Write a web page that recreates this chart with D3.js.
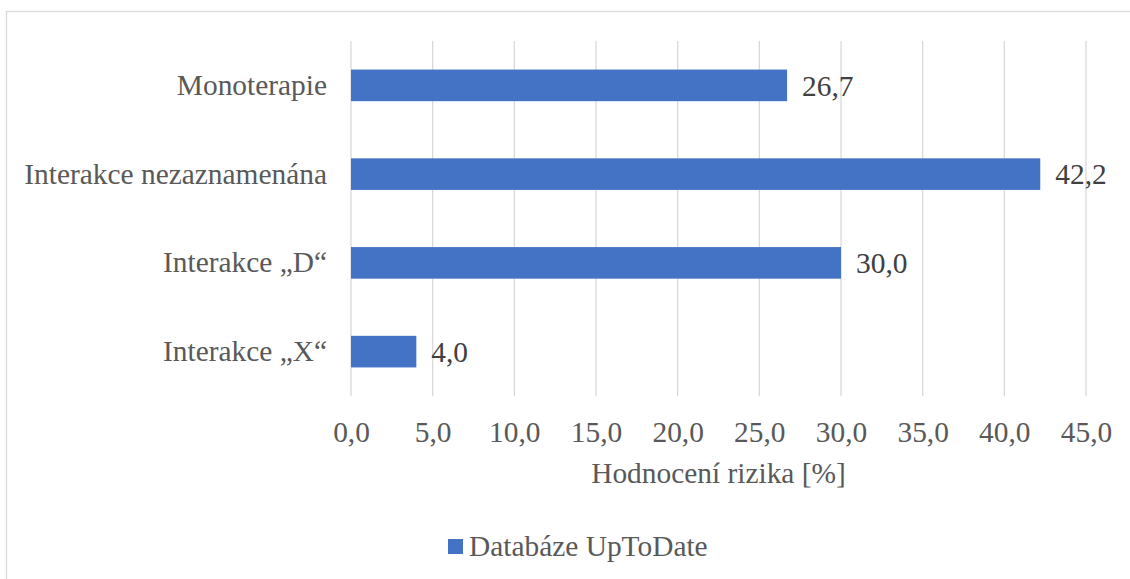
<!DOCTYPE html>
<html>
<head>
<meta charset="utf-8">
<script src="https://cdn.jsdelivr.net/npm/d3@7"></script>
<style>
  body { margin: 0; background: #fff; }
</style>
</head>
<body>
<main></main>
<script>
const categories = ['Monoterapie', 'Interakce nezaznamenána', 'Interakce \u201eD\u201c', 'Interakce \u201eX\u201c']
const values = [26.7, 42.2, 30.0, 4.0]
const xTicks = [0, 5, 10, 15, 20, 25, 30, 35, 40, 45]
const seriesName = 'Databáze UpToDate'
const axisTitle = 'Hodnocení rizika [%]'

const sizeOfSVG = { width: 1130, height: 579 }
const plot = { left: 351, right: 1086, top: 41, bottom: 396 }
const barColor = '#4472c4'
const fontSize = 29.4

const svg = d3.select('main')
    .append('svg')
    .attr('width', sizeOfSVG.width)
    .attr('height', sizeOfSVG.height)
    .style('font-family', '"Liberation Serif", "Times New Roman", serif')

// chart border (only top and left edges are inside the window)
svg.append('rect')
    .attr('x', 6.5)
    .attr('y', 11.5)
    .attr('width', sizeOfSVG.width + 20)
    .attr('height', sizeOfSVG.height + 20)
    .attr('fill', 'none')
    .attr('stroke', '#d9d9d9')
    .attr('stroke-width', 1.3)

const xScale = d3.scaleLinear()
    .domain([0, 45])
    .range([plot.left, plot.right])

const yScale = d3.scaleBand()
    .domain(categories)
    .range([plot.top, plot.bottom])
    .paddingInner(0.644)
    .paddingOuter(0.322)

// gridlines
svg.append('g')
    .selectAll('line')
    .data(xTicks)
    .enter()
    .append('line')
    .attr('x1', d => xScale(d))
    .attr('x2', d => xScale(d))
    .attr('y1', plot.top)
    .attr('y2', plot.bottom)
    .attr('stroke', '#d9d9d9')
    .attr('stroke-width', 1.3)

// x axis labels
const xAxis = svg.append('g')
    .attr('transform', `translate(0, ${plot.bottom})`)
    .call(d3.axisBottom(xScale).tickValues(xTicks).tickSize(0).tickPadding(25)
        .tickFormat(d => d3.format('.1f')(d).replace('.', ',')))
xAxis.attr('font-family', null).attr('font-size', fontSize)
xAxis.select('.domain').remove()
xAxis.selectAll('text').attr('fill', '#595959')

// category labels
const yAxis = svg.append('g')
    .attr('transform', `translate(${plot.left}, 0)`)
    .call(d3.axisLeft(yScale).tickSize(0).tickPadding(24))
yAxis.attr('font-family', null).attr('font-size', fontSize)
yAxis.select('.domain').remove()
yAxis.selectAll('text').attr('fill', '#595959')

// bars
svg.selectAll('rect.bar')
    .data(values)
    .enter()
    .append('rect')
    .attr('class', 'bar')
    .attr('x', xScale(0))
    .attr('y', (d, i) => yScale(categories[i]))
    .attr('width', d => xScale(d) - xScale(0))
    .attr('height', yScale.bandwidth())
    .attr('fill', barColor)

// data labels
svg.selectAll('text.value')
    .data(values)
    .enter()
    .append('text')
    .attr('class', 'value')
    .attr('x', d => xScale(d) + 15)
    .attr('y', (d, i) => yScale(categories[i]) + yScale.bandwidth() / 2)
    .attr('dy', '0.35em')
    .attr('font-size', fontSize)
    .attr('fill', '#404040')
    .text(d => d.toFixed(1).replace('.', ','))

// axis title
svg.append('text')
    .attr('x', (plot.left + plot.right) / 2)
    .attr('y', 483)
    .attr('text-anchor', 'middle')
    .attr('font-size', fontSize)
    .attr('fill', '#595959')
    .text(axisTitle)

// legend
svg.append('rect')
    .attr('x', 448)
    .attr('y', 539)
    .attr('width', 15)
    .attr('height', 15)
    .attr('fill', barColor)
svg.append('text')
    .attr('x', 469)
    .attr('y', 556)
    .attr('font-size', fontSize)
    .attr('fill', '#595959')
    .text(seriesName)
</script>
</body>
</html>
